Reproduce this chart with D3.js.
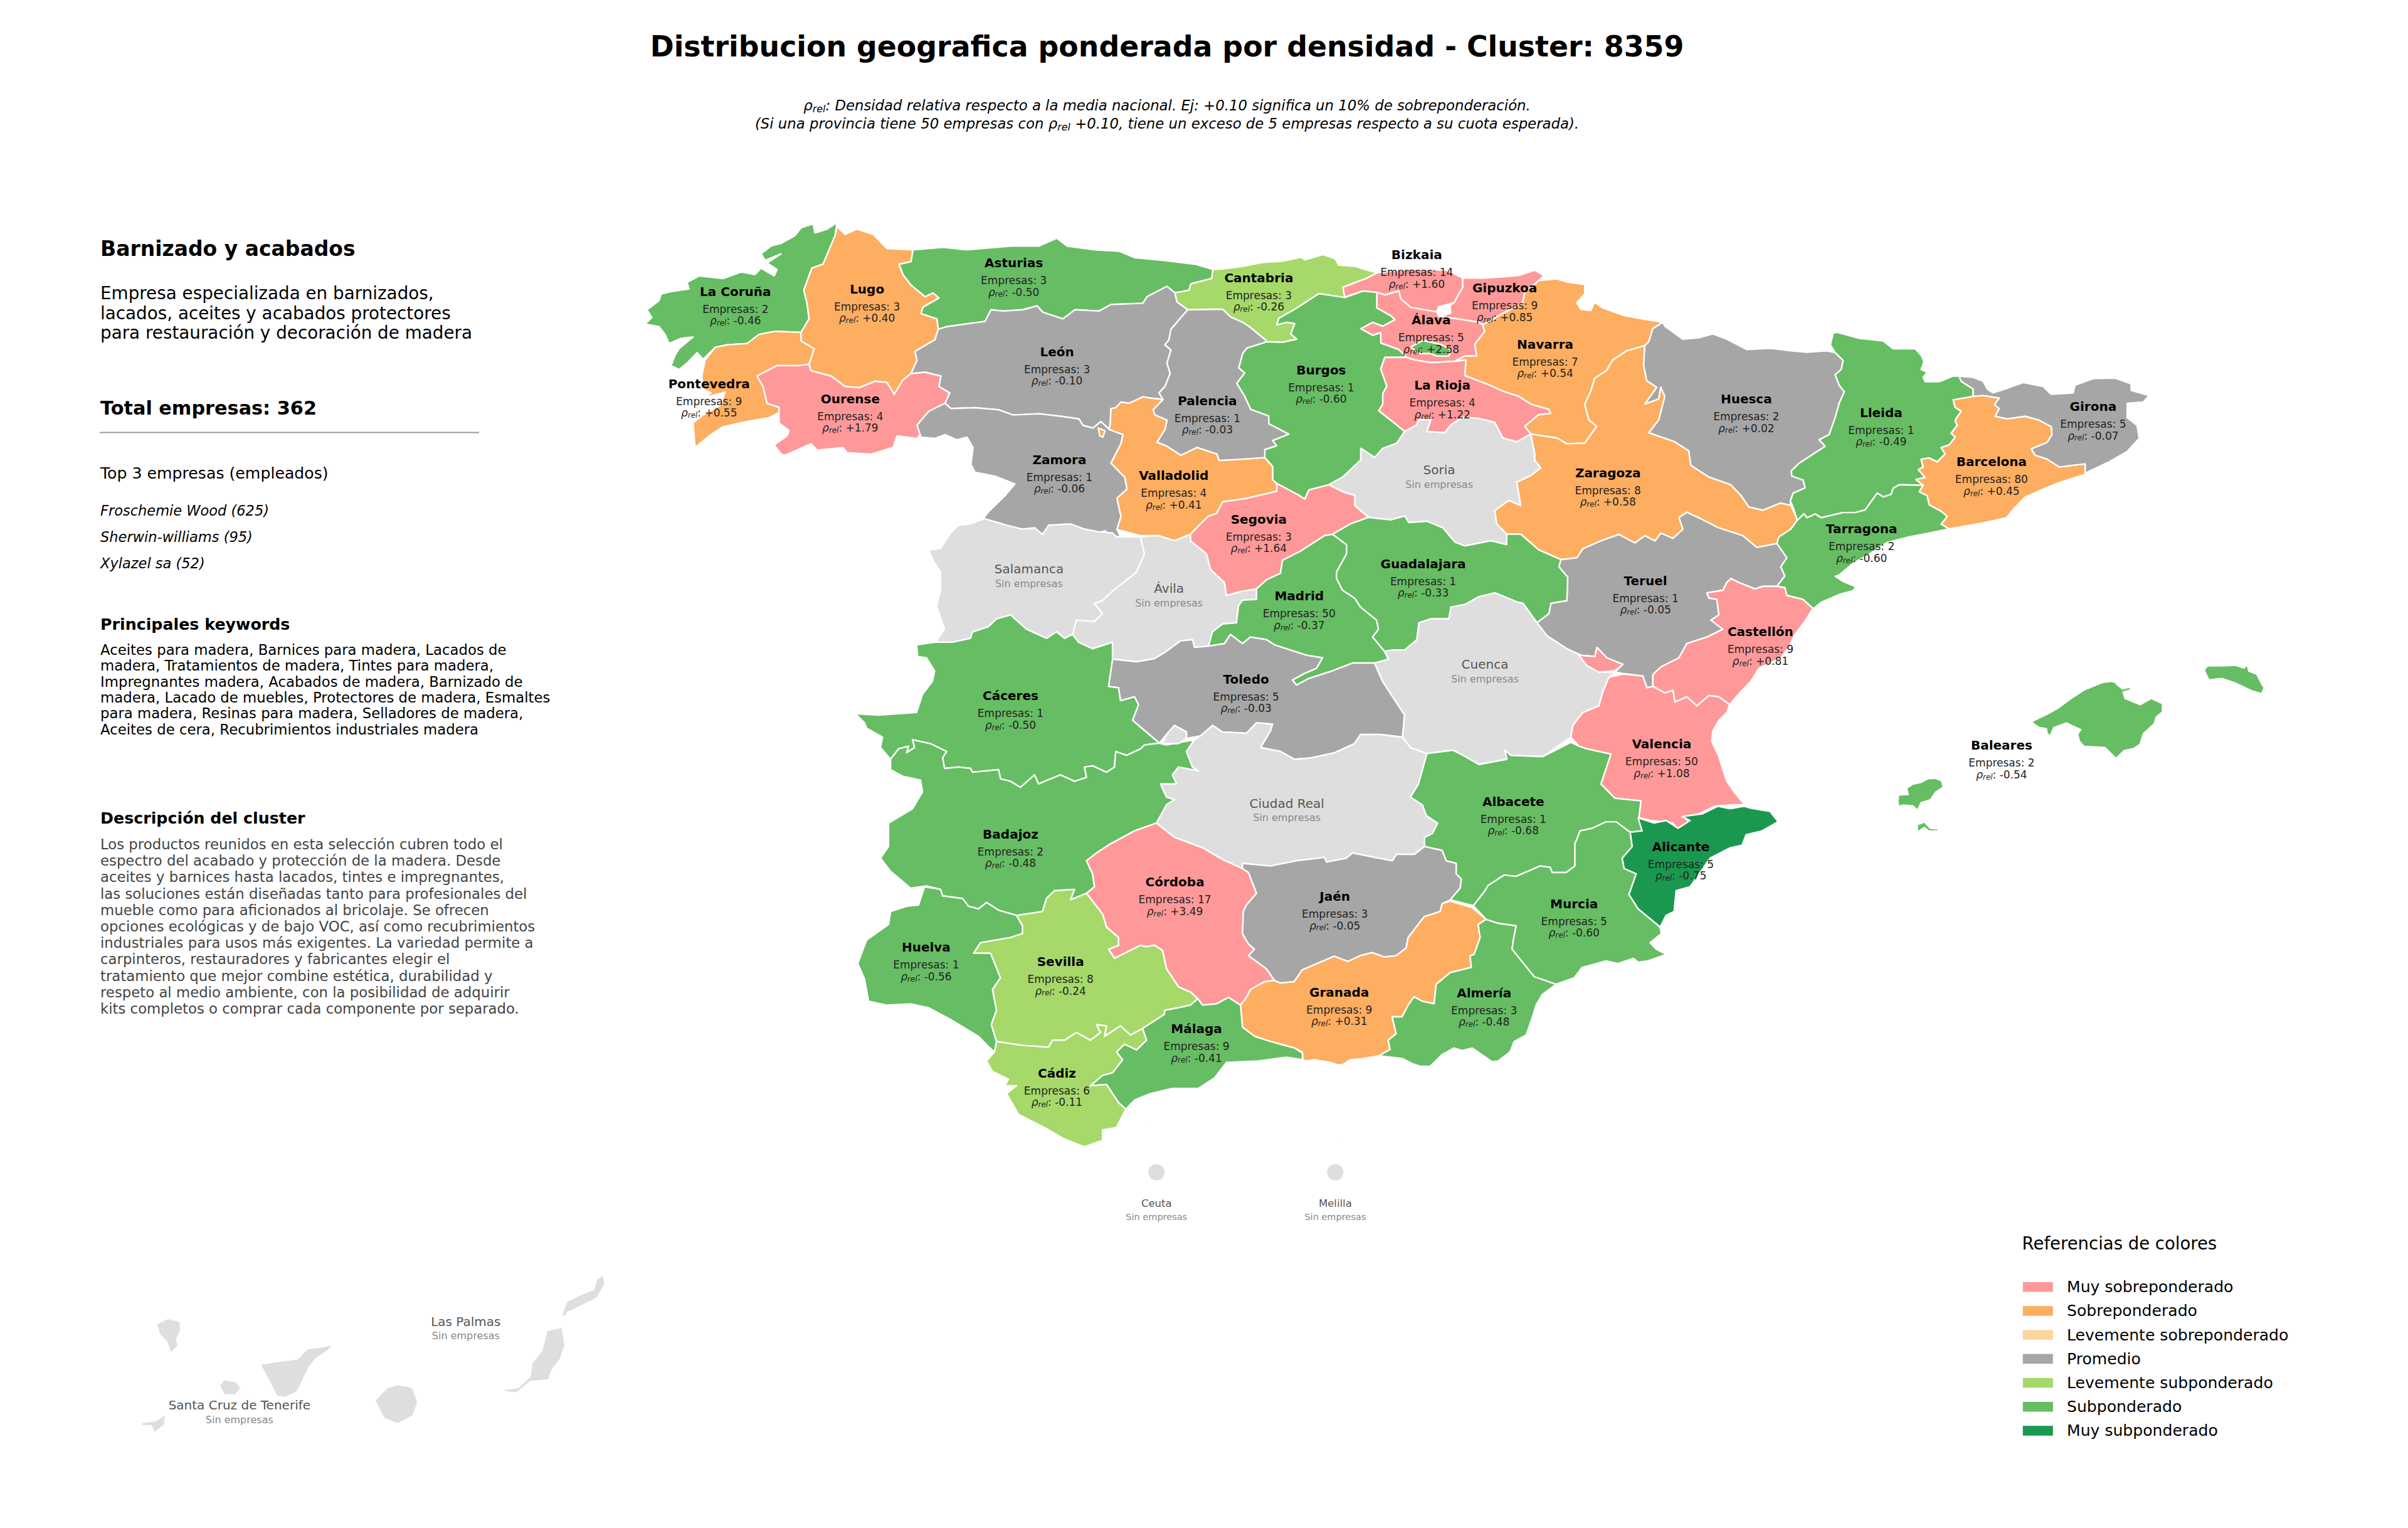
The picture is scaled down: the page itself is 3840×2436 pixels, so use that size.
<!DOCTYPE html>
<html><head><meta charset="utf-8">
<script src="https://cdn.jsdelivr.net/npm/d3@7/dist/d3.min.js"></script>
<style>html,body{margin:0;background:#fff}svg{display:block}text{font-family:'DejaVu Sans',sans-serif}</style>
</head><body><svg id="c" width="3840" height="2436"></svg>
<script>
// ---------- DATA ----------
const provinces = ["La Coruña","Lugo","Asturias","Pontevedra","Ourense","León","Palencia","Zamora","Valladolid","Bizkaia","Cantabria","Gipuzkoa","Álava","Navarra","Burgos","La Rioja","Huesca","Zaragoza","Segovia","Guadalajara","Madrid","Teruel","Lleida","Girona","Barcelona","Tarragona","Castellón","Valencia","Albacete","Alicante","Baleares","Toledo","Cáceres","Badajoz","Córdoba","Jaén","Huelva","Sevilla","Granada","Málaga","Cádiz","Almería","Murcia"];
const empresas = [2,3,3,9,4,3,1,1,4,14,3,9,5,7,1,4,2,8,3,1,50,1,1,5,80,2,9,50,1,5,2,5,1,2,17,3,1,8,9,9,6,3,5];
const rhoRel = [-0.46,0.40,-0.50,0.55,1.79,-0.10,-0.03,-0.06,0.41,1.60,-0.26,0.85,2.58,0.54,-0.60,1.22,0.02,0.58,1.64,-0.33,-0.37,-0.05,-0.49,-0.07,0.45,-0.60,0.81,1.08,-0.68,-0.75,-0.54,-0.03,-0.50,-0.48,3.49,-0.05,-0.56,-0.24,0.31,-0.41,-0.11,-0.48,-0.60];
const sinEmpresas = ["Salamanca","Ávila","Soria","Cuenca","Ciudad Real","Las Palmas","Santa Cruz de Tenerife"];
const legendLabels = ["Muy sobreponderado","Sobreponderado","Levemente sobreponderado","Promedio","Levemente subponderado","Subponderado","Muy subponderado"];
const legendColors = ["#ff9999","#fdae61","#fdd49e","#a6a6a6","#a6d96a","#66bd63","#1a9850"];
const rhoBreaks = [-0.7,-0.3,-0.105,0.1,0.3,0.6];
const noDataColor = "#dedede";
const topCompanies = ["Froschemie Wood (625)","Sherwin-williams (95)","Xylazel sa (52)"];
const introLines = ["Empresa especializada en barnizados,","lacados, aceites y acabados protectores","para restauración y decoración de madera"];
const keywordLines = ["Aceites para madera, Barnices para madera, Lacados de","madera, Tratamientos de madera, Tintes para madera,","Impregnantes madera, Acabados de madera, Barnizado de","madera, Lacado de muebles, Protectores de madera, Esmaltes","para madera, Resinas para madera, Selladores de madera,","Aceites de cera, Recubrimientos industriales madera"];
const descLines = ["Los productos reunidos en esta selección cubren todo el","espectro del acabado y protección de la madera. Desde","aceites y barnices hasta lacados, tintes e impregnantes,","las soluciones están diseñadas tanto para profesionales del","mueble como para aficionados al bricolaje. Se ofrecen","opciones ecológicas y de bajo VOC, así como recubrimientos","industriales para usos más exigentes. La variedad permite a","carpinteros, restauradores y fabricantes elegir el","tratamiento que mejor combine estética, durabilidad y","respeto al medio ambiente, con la posibilidad de adquirir","kits completos o comprar cada componente por separado."];

// Survey sheets the outlines were read on: origin x, origin y, x scale, y scale
const sheets = {A:[1000,330,1.568,2.412],B:[1950,350,1.568,2.412],C:[1350,800,1.568,2.412],D:[2250,800,1.568,2.412],E:[1350,1250,1.568,2.412],F:[2000,1250,1.568,2.412],G:[2850,500,1.568,2.412],H:[2900,1000,1.96,3],J:[100,1240,1.845,1.425]};

const outlines = {
"La Coruña":["A 525,60 500,85 470,100 465,65 435,80 420,110 385,140 360,150 335,180 345,205 385,180 350,215 375,240 368,265 335,235 320,260 285,250 240,275 180,265 150,290 155,315 110,325 85,335 80,360 50,395 62,425 45,450 80,460 95,490 105,525 135,505 165,500 130,545 120,570 110,610 130,625 150,600 175,560 190,585 220,540 250,530 300,525 330,490 370,478 435,482 455,430 450,370 442,320 462,235 490,220 505,165 520,110"],
"Pontevedra":["A 435,482 370,478 330,490 300,525 250,530 220,540 195,590 187,650 190,700 210,715 190,735 245,712 235,760 190,800 165,830 170,925 205,880 240,845 300,825 355,810 380,790 380,770 350,755 340,690 325,650 375,610 430,610 455,605 468,545 435,515"],
"Lugo":["A 525,75 545,105 575,85 615,105 650,160 715,165 710,210 680,220 690,260 710,300 745,345 765,330 780,350 740,385 735,410 775,430 778,470 770,510 720,555 725,590 710,640 690,665 668,720 650,675 620,670 580,695 545,690 510,650 460,630 455,605 468,545 435,515 435,482 455,430 450,370 442,320 462,235 490,220 505,165 520,110"],
"Ourense":["A 325,650 375,610 430,610 455,605 460,630 510,650 545,690 580,695 620,670 650,675 668,720 690,665 710,640 745,635 785,650 780,690 807,715 795,755 755,785 735,820 725,840 738,865 725,890 675,880 665,925 610,950 550,945 540,925 475,935 460,910 395,955 385,950 368,915 400,880 405,860 380,830 380,790 380,770 350,755 340,690"],
"Asturias":["A 715,165 790,155 850,165 960,150 1030,150 1075,120 1100,150 1170,165 1230,170 1270,195 1340,205 1420,220 1465,240 1462,275 1410,295 1405,320 1370,330 1350,305 1325,325 1300,345 1290,370 1210,375 1180,400 1120,395 1090,430 1040,405 1025,380 990,395 940,400 910,395 895,440 800,460 778,470 775,430 735,410 740,385 780,350 765,330 745,345 710,300 690,260 680,220 710,210"],
"León":["A 778,470 800,460 895,440 910,395 940,400 990,395 1025,380 1040,405 1090,430 1120,395 1180,400 1210,375 1290,370 1300,345 1325,325 1350,305 1370,330 1375,365 1402,395 1385,425 1360,470 1355,510 1345,530 1360,550 1350,600 1358,640 1345,690 1330,715 1340,740 1310,735 1290,730 1255,755 1235,750 1222,772 1210,775 1208,835 1205,855 1185,825 1165,850 1140,840 1130,815 1085,805 1030,795 965,800 930,780 870,772 810,775 795,755 807,715 780,690 785,650 745,635 710,640 725,590 720,555 770,510"],
"Palencia":["A 1402,395 1470,393 B 0,345 20,375 50,395 65,410 105,460 110,470 60,495 50,515 40,570 55,590 35,630 55,680 70,730 115,755 115,785 165,825 125,850 135,870 105,885 110,915 A 1540,970 1480,975 1475,950 1425,925 1385,955 1350,920 1325,905 1345,855 1350,820 1320,800 1315,780 1340,740 1330,715 1345,690 1358,640 1350,600 1360,550 1345,530 1355,510 1360,470 1385,425"],
"Zamora":["A 795,755 810,775 870,772 930,780 965,800 1030,795 1085,805 1130,815 1140,840 1165,850 1185,825 1205,855 1240,875 1235,910 1210,985 1245,1040 1250,1085 1225,1120 1235,1190 1225,1240 1235,1270 1205,1260 1195,1245 1175,1255 1110,1230 1085,1230 1050,1240 1040,1260 1020,1250 990,1245 930,1215 890,1198 905,1170 945,1110 970,1065 920,1035 870,1020 860,990 865,925 850,885 825,895 795,875 770,890 735,885 725,840 735,820 755,785"],
"Valladolid":["A 1340,740 1310,735 1290,730 1255,755 1235,750 1222,772 1210,775 1208,835 1205,855 1240,875 1235,910 1210,985 1245,1040 1250,1085 1225,1120 1235,1190 1225,1240 C 735,130 780,130 820,150 860,125 885,85 905,55 925,45 941,0 B 60,1072 135,1045 135,1015 125,1000 125,950 105,915 110,915 A 1540,970 1480,975 1475,950 1425,925 1385,955 1350,920 1325,905 1345,855 1350,820 1320,800 1315,780","A 1178,850 1195,860 1190,885 1182,880"],
"Salamanca":["C 345,65 400,90 440,105 470,100 490,125 505,90 560,85 595,105 630,115 665,120 675,135 735,135 745,200 725,270 660,350 640,380 620,390 640,430 620,460 575,455 565,510 545,525 525,500 500,525 450,490 410,435 375,450 355,480 315,500 310,525 265,540 222,540 245,490 225,400 235,340 235,270 220,235 205,185 235,180 260,120 280,90 310,85"],
"Ávila":["C 735,135 780,130 820,150 860,125 860,150 900,200 910,260 945,310 950,360 985,345 1025,335 1025,375 990,378 980,400 975,465 940,470 915,500 905,555 870,560 865,530 835,535 795,580 770,603 725,615 665,605 665,540 615,565 580,540 565,510 575,455 620,460 640,430 620,390 640,380 660,350 725,270 745,200"],
"Bizkaia":["B 300,260 360,225 385,205 470,190 560,195 600,225 600,260 578,320 540,335 535,355 470,338 445,305 440,275 405,290 385,280 350,275 305,298"],
"Cantabria":["A 1465,240 B 0,190 50,180 100,165 150,160 195,145 205,155 250,135 280,150 290,175 330,180 385,205 360,225 300,260 305,300 240,285 205,320 180,345 140,380 135,405 160,395 180,400 170,440 185,460 150,472 110,470 105,460 65,410 50,395 20,375 0,345 A 1470,393 1402,395 1375,365 1370,330 1405,320 1410,295 1462,275"],
"Gipuzkoa":["B 600,225 650,225 700,220 740,215 780,195 803,215 790,235 755,280 750,320 690,370 650,405 640,395 600,385 540,372 570,360 568,330 578,320 600,260"],
"Álava":["B 420,370 385,340 385,280 405,290 440,275 445,305 470,338 535,355 540,372 600,385 640,395 650,405 655,430 630,480 635,525 605,525 580,545 520,550 480,540 460,530 440,500 395,475 395,435 375,445 345,420 375,395 400,410 430,385"],
"Navarra":["B 790,235 835,228 860,240 905,250 905,285 885,320 895,345 920,350 930,318 950,340 1005,370 1060,385 1100,395 1075,420 1065,470 1055,485 1010,505 975,540 960,580 930,610 920,660 905,710 915,770 935,795 905,860 860,862 835,840 770,825 755,795 790,750 820,745 815,730 770,710 740,680 700,660 665,635 605,600 608,540 580,545 605,525 635,525 630,480 655,430 650,405 690,370 750,320 755,280"],
"Burgos":["B 240,285 305,300 350,275 385,280 385,340 420,370 430,385 400,410 375,395 345,420 375,445 395,435 395,475 440,500 460,530 405,530 395,575 410,640 400,670 400,710 390,735 435,790 455,815 435,860 400,880 380,915 345,880 345,925 300,990 265,1020 215,1040 205,1075 190,1060 135,1015 125,1000 125,950 105,915 105,885 135,870 125,850 165,825 115,785 115,755 70,730 55,680 35,630 55,590 40,570 50,515 60,495 110,470 150,472 185,460 170,440 180,400 160,395 135,405 140,380 180,345 205,320","B 470,490 500,465 545,480 570,500 565,525 535,525 520,515 490,515"],
"La Rioja":["B 405,530 460,530 480,540 520,550 580,545 608,540 605,600 665,635 700,660 740,680 770,710 815,730 820,745 790,750 755,795 770,825 735,855 700,840 680,780 640,765 600,760 570,790 555,820 510,815 520,770 490,770 485,790 455,815 435,790 390,735 400,710 400,670 410,640 395,575"],
"Soria":["B 455,815 485,790 490,770 520,770 510,815 555,820 570,790 600,760 640,765 680,780 700,840 735,855 770,825 780,900 780,925 795,955 770,985 735,1010 745,1100 715,1080 680,1120 685,1170 710,1210 710,1250 670,1235 605,1255 580,1240 550,1185 510,1160 465,1165 455,1140 420,1155 365,1145 330,1100 330,1060 305,1050 265,1020 300,990 345,925 345,880 380,915 400,880 435,860"],
"Huesca":["B 1100,395 1075,420 1065,470 1055,485 1052,560 1060,620 1085,645 1055,710 1090,690 1095,645 1105,680 1090,770 1065,820 1130,855 1165,890 1170,945 1215,990 1270,1020 1295,1060 1315,1105 1350,1118 1395,1090 1420,1100 G 8,720 15,690 45,670 40,640 12,625 10,605 30,575 60,545 95,510 80,485 105,465 120,400 130,345 143,300 130,275 120,235 135,215 140,180 120,150 B 1510,505 1460,510 1420,505 1370,495 1310,500 1260,460 1225,440 1190,455 1150,460 1105,410"],
"Teruel":["D 375,222 415,215 430,180 475,150 520,125 560,158 585,130 610,150 625,120 655,140 680,105 670,60 690,40 725,65 770,100 830,130 865,175 915,160 940,215 925,250 935,285 915,325 880,325 860,335 820,310 800,295 790,310 780,340 740,350 745,370 765,375 770,435 750,455 780,490 740,520 690,545 670,600 625,635 605,665 605,710 590,715 580,670 530,660 510,655 530,625 490,600 465,560 460,595 425,590 390,565 340,515 315,465 345,430 350,390 390,380 392,290 370,250"],
"Zaragoza":["B 1055,485 1052,560 1060,620 1085,645 1055,710 1090,690 1095,645 1105,680 1090,770 1065,820 1130,855 1165,890 1170,945 1215,990 1270,1020 1295,1060 1315,1105 1350,1118 1395,1090 1420,1100 1438,1155 1420,1190 D 915,160 865,175 830,130 770,100 725,65 690,40 670,60 680,105 655,140 625,120 610,150 585,130 560,158 520,125 475,150 430,180 415,215 375,222 B 790,1270 745,1210 710,1210 685,1170 680,1120 715,1080 745,1100 735,1010 770,985 795,955 780,925 780,900 770,825 835,840 860,862 905,860 935,795 915,770 905,710 920,660 930,610 960,580 975,540 1010,505"],
"Segovia":["C 941,0 925,45 905,55 885,85 860,125 860,150 900,200 910,260 945,310 950,360 985,345 1025,335 1050,300 1085,275 1090,225 1135,190 1195,130 1215,125 1260,85 1305,60 B 330,1100 330,1060 305,1050 265,1020 215,1040 205,1075 190,1060 135,1015 135,1045 60,1072"],
"Guadalajara":["C 1215,125 1260,85 1305,60 B 420,1155 455,1140 465,1165 510,1160 550,1185 580,1240 605,1255 670,1235 710,1250 710,1210 745,1210 790,1270 D 375,222 370,250 392,290 390,380 350,390 345,430 315,465 280,390 265,385 210,350 170,365 135,395 100,405 95,450 50,450 20,465 15,530 0,560 C 1395,570 1365,570 1345,575 1315,520 1330,490 1325,455 1285,405 1270,370 1240,340 1225,295 1225,270 1250,200 1250,165"],
"Madrid":["C 1215,125 1250,165 1250,200 1225,270 1225,295 1240,340 1270,370 1285,405 1325,455 1330,490 1315,520 1345,575 1355,605 1320,620 1265,620 1215,650 1155,680 1125,705 1115,685 1145,660 1175,640 1190,600 1150,590 1070,550 1050,530 1010,520 990,545 960,510 945,545 905,555 915,500 940,470 975,465 980,400 990,378 1025,375 1025,335 1050,300 1085,275 1090,225 1135,190 1195,130"],
"Lleida":["G 115,75 125,72 180,95 240,105 265,135 320,135 335,160 342,185 335,215 350,225 340,245 345,262 380,262 415,240 430,240 435,260 465,290 465,318 415,332 420,360 435,375 420,410 425,430 410,460 420,475 405,505 385,515 395,540 375,570 355,555 335,560 340,590 328,600 345,630 322,638 340,660 280,658 265,672 260,695 240,705 225,690 195,755 170,765 140,765 85,785 70,770 50,785 42,770 25,795 15,745 8,720 15,690 45,670 40,640 12,625 10,605 30,575 60,545 95,510 80,485 105,465 120,400 130,345 143,300 130,275 120,235 135,215 140,180 120,150 108,120"],
"Girona":["G 430,240 465,245 490,260 500,290 515,305 545,290 590,265 640,280 660,310 715,305 720,275 765,250 820,248 860,270 860,295 905,315 890,340 850,345 850,400 875,430 880,480 850,530 805,570 750,610 745,618 745,578 680,590 650,560 620,545 610,520 650,495 662,465 660,435 630,410 595,395 550,405 520,395 530,365 518,350 530,325 490,315 465,318 465,290 435,260"],
"Barcelona":["G 415,332 465,318 490,315 530,325 518,350 530,365 520,395 550,405 595,395 630,410 660,435 662,465 650,495 610,520 620,545 650,560 680,590 745,578 745,618 680,650 640,675 595,705 570,745 548,785 490,805 405,828 385,810 400,780 385,760 355,735 350,700 330,685 340,660 322,638 345,630 328,600 340,590 335,560 355,555 375,570 395,540 385,515 405,505 420,475 410,460 425,430 420,410 435,375 420,360"],
"Tarragona":["G 25,795 42,770 50,785 70,770 85,785 140,765 170,765 195,755 225,690 240,705 260,695 265,672 280,658 340,660 330,685 350,700 355,735 385,760 400,780 385,810 405,828 350,845 300,860 250,880 205,925 165,960 130,1005 120,1010 140,1030 172,1050 165,1065 130,1080 100,1100 85,1110 65,1135 D 980,375 940,360 935,330 915,325 935,285 925,250 940,215 915,160 920,135 950,105","G 95,1118 120,1110 110,1120"],
"Castellón":["D 740,350 780,340 790,310 800,295 820,310 860,335 880,325 915,325 935,330 940,360 980,375 1005,410 985,460 960,510 945,560 925,600 870,640 850,690 825,730 797,780 770,750 745,745 715,785 690,750 660,770 655,725 635,735 605,710 605,665 625,635 670,600 690,545 740,520 780,490 750,455 770,435 765,375 745,370"],
"Cuenca":["D 20,465 50,450 95,450 100,405 135,395 170,365 210,350 265,385 280,390 315,465 340,515 390,565 425,590 440,630 470,655 510,655 495,675 480,730 470,785 430,810 405,860 400,905 330,980 250,975 235,955 240,990 170,1010 130,975 105,955 40,968 C 1410,945 1390,905 1395,820 1340,690 1320,620 1355,605 1345,575 1365,570 1395,570 D 15,530"],
"Valencia":["D 495,675 530,662 580,670 590,715 605,710 635,735 655,725 660,770 690,750 715,785 745,745 770,750 797,780 790,810 770,840 755,880 752,920 770,980 782,1040 790,1075 810,1120 835,1165 805,1165 760,1170 720,1200 680,1210 700,1235 665,1255 655,1235 600,1225 570,1215 575,1150 510,1140 475,1085 500,970 440,950 420,940 400,905 405,860 430,810 470,785 480,730","D 420,590 460,595 465,560 490,600 530,625 510,650 470,655 440,630"],
"Albacete":["D 40,968 105,955 130,975 170,1010 240,990 235,955 250,975 330,980 400,925 420,940 440,950 500,970 475,1085 510,1140 575,1150 570,1215 F 970,180 940,185 905,145 880,145 845,170 815,180 802,230 802,315 780,340 745,340 740,320 715,315 655,355 625,350 585,390 575,415 548,468 490,445 515,400 518,365 505,345 505,305 480,295 470,255 425,240 425,205 445,190 458,150 430,120 420,80 390,50 410,0"],
"Alicante":["F 940,185 970,180 960,130 1000,150 1030,140 1060,170 1090,140 1070,125 1120,115 1160,85 1190,95 1225,85 1240,92 1290,105 1310,145 1270,180 1230,195 1220,235 1190,245 1140,285 1090,395 1055,410 1050,490 1030,505 1015,550 960,480 937,425 955,345 925,325 920,285 945,240"],
"Baleares":["H 668,450 715,415 750,385 790,340 830,300 885,265 915,258 930,265 975,240 945,265 930,270 950,295 975,285 975,300 952,310 958,340 1005,370 1040,340 1075,365 1075,405 1055,430 1050,460 1015,510 1005,560 985,580 955,590 930,628 895,575 830,570 815,545 810,510 820,490 775,458 735,480 725,518 715,510 712,485 690,480 670,460","H 1205,205 1215,185 1250,185 1305,182 1330,195 1340,180 1345,210 1370,225 1385,270 1393,290 1385,318 1355,305 1300,265 1260,245 1220,252","H 248,830 250,802 280,800 275,770 295,750 320,742 340,725 365,722 385,735 390,765 365,790 350,825 320,840 310,875 295,855 265,850 250,858","H 308,945 325,935 330,930 350,962 375,965 375,975 345,975 330,958 310,980"],
"Toledo":["C 1155,680 1215,650 1265,620 1320,620 1340,690 1395,820 1390,905 1335,895 1285,895 1270,930 1220,965 1160,985 1120,990 1085,960 1035,945 1060,880 1065,855 1025,850 1000,890 940,885 915,860 885,900 850,910 850,885 820,860 800,895 782,928 715,840 730,780 720,750 685,765 680,715 655,710 665,605 725,615 770,603 795,580 835,535 865,530 870,560 905,555 945,545 960,510 990,545 1010,520 1050,530 1070,550 1150,590 1190,600 1175,640 1145,660 1115,685 1125,705"],
"Cáceres":["C 175,550 222,540 265,540 310,525 315,500 355,480 375,450 410,435 450,490 500,525 525,500 545,525 565,510 580,540 615,565 665,540 665,605 655,710 680,715 685,765 720,750 730,780 715,840 782,928 745,935 735,950 700,975 673,960 670,1020 650,1040 615,1015 595,1020 600,1060 570,1075 535,1050 495,1075 480,1085 470,1050 435,1098 410,1075 385,1065 380,1030 315,1040 310,1025 280,1020 245,1025 240,985 250,960 210,930 165,915 170,945 150,965 155,940 130,950 110,990 85,945 90,905 50,870 45,850 22,815 80,820 175,810 190,740 215,690 220,650 200,600 178,595"],
"Badajoz":["C 782,928 800,935 870,915 850,960 865,1020 880,1035 830,1020 815,1050 825,1085 785,1085 800,1135 820,1145 800,1165 E 775,150 720,180 660,230 625,265 600,295 615,345 620,395 600,420 560,445 570,405 520,410 500,440 490,490 425,505 380,485 350,455 330,480 305,470 290,440 240,430 235,405 200,392 160,400 110,335 85,285 105,240 105,150 165,95 190,30 C 185,1070 140,1055 110,1030 110,990 130,950 155,940 150,965 170,945 165,915 210,930 250,960 240,985 245,1025 280,1020 310,1025 315,1040 380,1030 385,1065 410,1075 435,1098 470,1050 480,1085 495,1075 535,1050 570,1075 600,1060 595,1020 615,1015 650,1040 670,1020 673,960 700,975 735,950 745,935"],
"Ciudad Real":["C 870,915 885,900 915,860 940,885 1000,890 1025,850 1065,855 1060,880 1035,945 1085,960 1120,990 1160,985 1220,965 1270,930 1285,895 1335,895 1390,905 1410,945 1451,968 E 1430,0 1410,50 1440,80 1450,125 1478,150 1465,190 1445,205 1445,240 1420,270 1375,270 1365,295 1330,285 1265,265 1250,285 1200,300 1195,282 1125,295 1060,315 990,305 990,325 940,290 890,245 820,205 775,150 C 800,1165 820,1145 800,1135 785,1085 825,1085 815,1050 830,1020 880,1035 865,1020 850,960","C 800,895 820,860 850,885 850,910 830,930 790,930"],
"Córdoba":["E 775,150 820,205 890,245 940,290 990,325 1005,340 1015,380 1025,420 1000,465 992,490 990,575 1005,615 1020,635 1005,660 1050,710 1070,755 1045,760 1010,790 1000,820 985,850 955,820 925,845 890,850 878,825 860,800 830,780 800,710 790,640 770,620 750,625 735,620 670,670 655,635 680,620 680,590 650,550 640,500 600,420 620,395 615,345 600,295 625,265 660,230 720,180"],
"Jaén":["E 990,305 1060,315 1125,295 1195,282 1200,300 1250,285 1265,265 1330,285 1365,295 1375,270 1420,270 1445,240 F 470,255 480,295 505,305 505,345 518,365 515,400 490,445 470,460 465,490 425,510 385,590 380,630 355,660 325,665 295,648 265,660 235,682 200,662 120,715 100,760 65,765 E 1070,755 1050,710 1005,660 1020,635 1005,615 990,575 992,490 1000,465 1025,420 1015,380 1005,340 990,325"],
"Huelva":["E 195,395 235,405 240,430 290,440 305,470 330,480 350,455 380,485 425,505 440,545 440,575 410,590 335,610 318,650 360,650 385,745 365,790 375,870 362,925 375,990 370,1030 355,1010 330,970 260,905 205,860 160,845 100,850 55,835 45,750 28,690 50,600 105,540 110,490 150,470 180,465"],
"Sevilla":["E 425,505 490,490 500,440 520,410 570,405 560,445 600,420 640,500 650,550 680,590 680,620 655,635 670,670 735,620 750,625 770,620 790,640 800,710 830,780 860,800 878,825 860,850 830,860 795,870 795,885 740,940 710,965 685,930 645,970 650,930 625,925 635,955 610,985 575,955 545,985 515,985 505,1012 440,1005 375,990 362,925 375,870 365,790 385,745 360,650 318,650 335,610 410,590 440,575 440,545"],
"Granada":["E 985,850 1000,820 1010,790 1045,760 1070,755 F 65,765 100,760 120,715 200,662 235,682 265,660 295,648 325,665 355,660 380,630 385,590 425,510 465,490 470,460 490,450 545,475 580,520 560,540 565,590 550,655 540,660 543,705 490,725 455,770 450,845 420,835 400,818 385,850 370,895 345,895 355,960 335,985 340,1020 312,1045 275,1055 240,1060 220,1080 205,1078 190,1070 150,1060 130,1065 122,1060 120,1030 E 1120,1015 1060,990 1020,970 990,935"],
"Málaga":["E 740,940 795,885 795,870 830,860 860,850 878,825 890,850 925,845 955,820 985,850 990,935 1020,970 1060,990 1120,1015 1140,1035 1140,1060 1100,1050 1030,1065 950,1070 920,1130 880,1170 815,1170 760,1190 720,1215 698,1250 680,1225 650,1155 610,1160 640,1120 665,1110 690,1060 675,1030 695,1000 725,1022 750,985"],
"Cádiz":["E 375,990 440,1005 505,1012 515,985 545,985 575,955 610,985 635,955 625,925 650,930 645,970 685,930 710,965 740,940 750,985 725,1022 695,1000 675,1030 690,1060 665,1110 640,1120 610,1160 650,1155 680,1225 698,1250 675,1320 640,1330 640,1370 595,1395 545,1365 500,1325 430,1270 400,1190 425,1160 395,1160 405,1135 365,1105 350,1065 370,1030"],
"Almería":["F 580,520 610,535 655,545 648,600 645,635 700,740 755,770 720,810 705,850 695,900 680,965 650,990 640,1030 610,1065 595,1068 545,1015 520,1025 500,1015 470,1040 440,1085 415,1085 395,1075 370,1055 312,1045 340,1020 335,985 355,960 345,895 370,895 385,850 400,818 420,835 450,845 455,770 490,725 543,705 540,660 550,655 565,590 560,540"],
"Murcia":["F 548,468 575,415 585,390 625,350 655,355 715,315 740,320 745,340 780,340 802,315 802,230 815,180 845,170 880,145 905,145 940,185 945,240 920,285 925,325 955,345 937,425 960,480 1015,550 1018,575 990,610 1005,635 1030,655 985,680 960,685 948,670 910,690 880,680 820,705 800,745 755,770 700,740 645,635 648,600 655,545 610,535 580,520"],
"Las Palmas":["J 918,1415 955,1385 985,1378 1030,1385 1045,1420 1030,1450 985,1468 945,1455","J 1292,1390 1340,1385 1375,1360 1380,1330 1410,1300 1425,1255 1470,1248 1478,1290 1465,1320 1440,1345 1430,1368 1375,1372 1335,1398 1305,1395","J 1467,1222 1482,1190 1520,1175 1562,1162 1572,1138 1590,1130 1596,1150 1572,1182 1530,1198 1500,1210 1485,1215 1478,1224"],
"Santa Cruz de Tenerife":["J 275,1240 310,1228 345,1235 348,1255 335,1275 340,1290 318,1308 305,1280 285,1265","J 460,1380 475,1367 510,1372 525,1385 510,1402 475,1402","J 580,1332 640,1325 690,1320 720,1297 760,1293 798,1287 780,1302 745,1320 725,1340 690,1395 655,1408 630,1405 610,1375","J 232,1465 275,1460 303,1445 300,1470 270,1488 260,1472 232,1472"],
"Ceuta":["E 755,1305 768,1318 760,1320"],
"Melilla":["E 1234,1352 1240,1358 1236,1366"]
};
const cityDots = [["Ceuta","E 775 1493"],["Melilla","E 1222 1493"]];

const labelSpots = {"La Coruña":"A 271 325","Lugo":"A 600 315","Asturias":"A 967 215","Pontevedra":"A 205 680","Ourense":"A 558 737","León":"A 1075 556","Palencia":"A 1451 745","Zamora":"A 1081 972","Valladolid":"A 1367 1033","Salamanca":"A 1005 1392","Ávila":"A 1355 1467","Bizkaia":"B 485 136","Cantabria":"B 90 224","Gipuzkoa":"B 705 264","Álava":"B 521 387","Navarra":"B 806 479","Burgos":"B 246 578","La Rioja":"B 549 637","Huesca":"B 1309 690","Soria":"B 541 963","Zaragoza":"B 963 974","Segovia":"B 90 1152","Guadalajara":"B 501 1323","Madrid":"B 191 1448","Teruel":"B 1057 1389","Lleida":"G 235 381","Girona":"G 765 357","Barcelona":"G 511 570","Tarragona":"G 186 828","Castellón":"D 874 500","Cuenca":"D 185 625","Valencia":"D 627 932","Albacete":"D 256 1152","Alicante":"D 675 1326","Baleares":"D 1477 937","Toledo":"C 999 682","Cáceres":"C 410 746","Badajoz":"C 410 1278","Ciudad Real":"C 1101 1159","Córdoba":"E 821 377","Jaén":"E 1221 432","Huelva":"E 199 628","Sevilla":"E 535 683","Granada":"E 1232 800","Málaga":"E 875 941","Cádiz":"E 526 1111","Almería":"F 575 803","Murcia":"F 800 460","Las Palmas":"J 1186 1235","Santa Cruz de Tenerife":"J 520 1425"};

// ---------- DRAW ----------
const svg = d3.select("#c");
const toPoint = (k,x,y)=>{const s=sheets[k];return [s[0]+x/s[2], s[1]+y/s[3]];};
const readRing = str=>{let k=null;const out=[];str.trim().split(/\s+/).forEach(t=>{if(/^[A-Z]$/.test(t))k=t;else{const [x,y]=t.split(",").map(Number);out.push(toPoint(k,x,y));}});out.push(out[0]);return out;};
const spot = str=>{const [k,x,y]=str.split(" ");return toPoint(k,+x,+y);};

const colorScale = d3.scaleThreshold().domain(rhoBreaks).range(legendColors.slice().reverse());
const rhoOf = new Map(provinces.map((p,i)=>[p,rhoRel[i]]));
const countOf = new Map(provinces.map((p,i)=>[p,empresas[i]]));
const features = Object.keys(outlines).map(name=>({type:"Feature",properties:{name},geometry:{type:"MultiPolygon",coordinates:outlines[name].map(r=>[readRing(r)])}}));
const path = d3.geoPath(d3.geoIdentity());

svg.append("g").selectAll("path").data(features).join("path")
  .attr("d",path)
  .attr("fill",d=>rhoOf.has(d.properties.name)?colorScale(rhoOf.get(d.properties.name)):noDataColor)
  .attr("stroke","#fff").attr("stroke-width",2.4).attr("stroke-linejoin","round");

svg.append("g").selectAll("circle").data(cityDots).join("circle")
  .attr("cx",d=>spot(d[1])[0]).attr("cy",d=>spot(d[1])[1]).attr("r",13).attr("fill",noDataColor);

function T(x,y,txt,size,opt={}){
  return svg.append("text").attr("x",x).attr("y",y).attr("font-size",size).attr("dominant-baseline","central")
    .attr("text-anchor",opt.anchor||"start").attr("font-weight",opt.bold?"bold":null).attr("font-style",opt.italic?"italic":null)
    .attr("fill",opt.fill||"#000").text(txt);
}
const rhoFmt = v=>{const s=v.toFixed(2);return v>=0?"+"+s:s;};
function rhoSpans(sel,fs){
  sel.append("tspan").attr("font-style","italic").text("ρ");
  sel.append("tspan").attr("font-style","italic").attr("font-size",fs*0.7).attr("dy",fs*0.22).text("rel");
  return sel.append("tspan").attr("dy",-fs*0.22);
}
Object.keys(labelSpots).forEach(name=>{
  const [x,y]=spot(labelSpots[name]);
  if(rhoOf.has(name)){
    T(x,y,name,20,{anchor:"middle",bold:true});
    T(x,y+28,"Empresas: "+countOf.get(name),17,{anchor:"middle",fill:"#222"});
    const t=svg.append("text").attr("x",x).attr("y",y+46.5).attr("font-size",17).attr("text-anchor","middle").attr("dominant-baseline","central").attr("fill","#222");
    rhoSpans(t,17).text(": "+rhoFmt(rhoOf.get(name)));
  } else {
    T(x,y,name,20,{anchor:"middle",fill:"#555"});
    T(x,y+23,"Sin empresas",16,{anchor:"middle",fill:"#888"});
  }
});
cityDots.forEach(d=>{
  const [x,y]=spot(d[1]);
  T(x,y+50,d[0],16.5,{anchor:"middle",fill:"#555"});
  T(x,y+71,"Sin empresas",14.5,{anchor:"middle",fill:"#888"});
});

// header
T(1861,73.5,"Distribucion geografica ponderada por densidad - Cluster: 8359",45.8,{anchor:"middle",bold:true});
const s1=svg.append("text").attr("x",1861).attr("y",167.7).attr("font-size",22.8).attr("text-anchor","middle").attr("dominant-baseline","central").attr("font-style","italic");
rhoSpans(s1,22.8).text(": Densidad relativa respecto a la media nacional. Ej: +0.10 significa un 10% de sobreponderación.");
const s2=svg.append("text").attr("x",1861).attr("y",196.7).attr("font-size",22.8).attr("text-anchor","middle").attr("dominant-baseline","central").attr("font-style","italic");
s2.append("tspan").text("(Si una provincia tiene 50 empresas con ");
rhoSpans(s2,22.8).text(" +0.10, tiene un exceso de 5 empresas respecto a su cuota esperada).");

// left panel
const LX=160;
T(LX,396,"Barnizado y acabados",33,{bold:true});
introLines.forEach((l,i)=>T(LX,467.4+i*31.6,l,27.8));
T(LX,650,"Total empresas: "+362,30.3,{bold:true});
svg.append("line").attr("x1",LX-1).attr("x2",764).attr("y1",689.6).attr("y2",689.6).attr("stroke","#999").attr("stroke-width",2);
T(LX,754.5,"Top 3 empresas (empleados)",25.2);
topCompanies.forEach((l,i)=>T(LX,813.6+i*42.2,l,22.5,{italic:true}));
T(LX,995.6,"Principales keywords",25.3,{bold:true});
keywordLines.forEach((l,i)=>T(LX,1035.8+i*25.4,l,22.8));
T(LX,1304.6,"Descripción del cluster",25.3,{bold:true});
descLines.forEach((l,i)=>T(LX,1346+i*26.2,l,22.8,{fill:"#444"}));

// legend
T(3224.6,1982,"Referencias de colores",27.5);
legendLabels.forEach((l,i)=>{
  const cy=2051.7+i*38.2;
  svg.append("rect").attr("x",3225.8).attr("y",cy-7.8).attr("width",48).attr("height",15.6).attr("fill",legendColors[i]);
  T(3296,cy,l,25.1);
});
</script></body></html>
